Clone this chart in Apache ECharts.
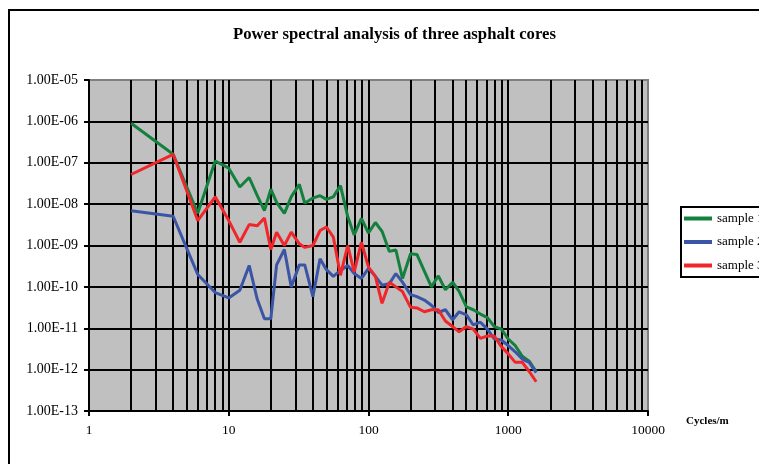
<!DOCTYPE html>
<html lang="en">

<head>
    <meta charset="UTF-8">
    <title>Power spectral analysis</title>
    <style>
        html,
        body {
            margin: 0;
            padding: 0;
            background: #fff;
        }

        .mychart {
            width: 759px;
            height: 464px;
        }
    </style>
</head>

<body>
    <div class="mychart"></div>
</body>
<script src="https://cdn.jsdelivr.net/npm/echarts@6/dist/echarts.min.js"></script>
<script>
    // frequency (cycles/m), shared by all three samples
    const freq = [2, 4, 6, 8, 10, 12, 14, 16, 18, 20, 22, 25, 28, 32, 35, 40, 45, 50, 56, 63, 71, 79, 89, 100,
        112, 125, 141, 157, 175, 200, 222, 251, 282, 316, 355, 400, 445, 502, 562, 632, 709, 795, 893, 1000,
        1122, 1260, 1413, 1585
    ]

    const sample1 = [9e-7, 1.6e-7, 6e-9, 1.1e-7, 7.4e-8, 2.6e-8, 4.4e-8, 1.6e-8, 7e-9, 2.3e-8, 1.1e-8, 6e-9, 1.5e-8,
        3e-8, 1.05e-8, 1.4e-8, 1.6e-8, 1.3e-8, 1.5e-8, 2.8e-8, 5e-9, 1.8e-9, 4.5e-9, 2e-9,
        3.6e-9, 2.2e-9, 7.2e-10, 7.8e-10, 1.6e-10, 6.3e-10, 6.1e-10, 2.4e-10, 1.0e-10, 1.85e-10, 8.5e-11, 1.3e-10,
        7.8e-11, 3.3e-11, 2.8e-11, 2.2e-11, 1.8e-11, 1.1e-11, 9.5e-12, 5.5e-12, 3.8e-12, 2.1e-12, 1.6e-12, 8.9e-13
    ]

    const sample2 = [6.9e-9, 5.1e-9, 2e-10, 7.3e-11, 5.4e-11, 8.3e-11, 3.3e-10, 5e-11, 1.7e-11, 1.7e-11, 3.4e-10,
        8e-10, 1e-10, 3.4e-10, 3.4e-10, 5.8e-11, 4.8e-10, 2.6e-10, 1.8e-10, 2.5e-10, 3.3e-10, 2.1e-10, 1.6e-10,
        2.8e-10, 1.8e-10, 1.1e-10, 1.2e-10, 2.1e-10, 1.3e-10, 6.5e-11, 5.8e-11, 4.8e-11, 3.6e-11, 2.4e-11, 2.8e-11,
        1.6e-11, 2.5e-11, 2.1e-11, 1.2e-11, 1.4e-11, 9.5e-12, 5.5e-12, 5.2e-12, 3.8e-12, 2.7e-12, 1.8e-12, 1.5e-12,
        8.5e-13
    ]

    const sample3 = [5.2e-8, 1.6e-7, 4e-9, 1.5e-8, 4e-9, 1.2e-9, 3.2e-9, 3e-9, 4.6e-9, 8e-10, 2.1e-9, 1e-9, 2.1e-9,
        1.1e-9, 9e-10, 1e-9, 2.3e-9, 2.8e-9, 1.6e-9, 1.9e-10, 1e-9, 2.3e-10, 1.2e-9, 3e-10, 1.8e-10, 4e-11,
        1.3e-10, 1e-10, 7.7e-11, 3.2e-11, 3.1e-11, 2.5e-11, 2.8e-11, 2.8e-11, 1.5e-11, 1.1e-11, 8.2e-12, 1.1e-11,
        9.5e-12, 5.7e-12, 6.5e-12, 6.5e-12, 3.6e-12, 2.4e-12, 1.5e-12, 1.5e-12, 9e-13, 5.1e-13
    ]

    const seriesNames = ['sample 1', 'sample 2', 'sample 3']

    // vertical grid lines of the log x axis (every 1..9 x decade)
    const xGridLines = [2, 3, 4, 5, 6, 7, 8, 9, 10, 20, 30, 40, 50, 60, 70, 80, 90, 100, 200, 300, 400, 500, 600, 700,
        800, 900, 1000, 2000, 3000, 4000, 5000, 6000, 7000, 8000, 9000
    ]

    const serif = '"Liberation Serif", "DejaVu Serif", serif'

    function pairs(ys) {
        return freq.map((f, i) => [f, ys[i]])
    }

    function fmtE(v) {
        const e = Math.round(Math.log10(v))
        return '1.00E' + (e < 0 ? '-' : '+') + String(Math.abs(e)).padStart(2, '0')
    }

    const mychartDom = document.querySelector('.mychart')
    const myChart = echarts.init(mychartDom)

    const lineStyleOf = color => ({ color: color, width: 3 })

    const config = {
        animation: false,
        backgroundColor: '#fff',
        title: {
            text: 'Power spectral analysis of three asphalt cores',
            left: 228,
            top: 21,
            textStyle: { fontFamily: serif, fontWeight: 'bold', fontSize: 16.7, color: '#000' }
        },
        legend: {
            data: seriesNames,
            orient: 'vertical',
            left: 681,
            top: 207,
            padding: [5, 60, 5, 3],
            itemWidth: 28,
            itemHeight: 4,
            itemGap: 10.5,
            icon: 'rect',
            borderColor: '#000',
            borderWidth: 2,
            backgroundColor: '#fff',
            textStyle: { fontFamily: serif, fontSize: 13, color: '#000' }
        },
        graphic: [{
            type: 'rect',
            shape: { x: 9, y: 10, width: 800, height: 500 },
            style: { fill: null, stroke: '#000', lineWidth: 2 },
            z: 100
        }, {
            type: 'text',
            left: 686,
            top: 416,
            style: { text: 'Cycles/m', font: 'bold 11px ' + serif, fill: '#000' }
        }],
        grid: {
            left: 89,
            top: 80,
            width: 559,
            height: 331,
            show: true,
            backgroundColor: '#c0c0c0',
            borderColor: '#808080',
            borderWidth: 2
        },
        xAxis: {
            type: 'log',
            logBase: 10,
            min: 1,
            max: 10000,
            splitNumber: 4,
            axisLine: { lineStyle: { color: '#000', width: 2 } },
            axisTick: { show: true, length: 5, lineStyle: { color: '#000', width: 2 } },
            splitLine: { show: false },
            axisLabel: {
                margin: 12,
                fontFamily: serif,
                fontSize: 13.5,
                color: '#000',
                formatter: v => String(Math.round(v))
            }
        },
        yAxis: {
            type: 'log',
            logBase: 10,
            min: 1e-13,
            max: 1e-5,
            splitNumber: 8,
            axisLine: { lineStyle: { color: '#000', width: 2 } },
            axisTick: { show: true, length: 5, lineStyle: { color: '#000', width: 2 } },
            splitLine: {
                show: true,
                showMinLine: false,
                showMaxLine: false,
                lineStyle: { color: '#000', width: 2 }
            },
            axisLabel: {
                margin: 11,
                fontFamily: serif,
                fontSize: 14,
                color: '#000',
                formatter: fmtE
            }
        },
        series: [{
                name: 'sample 1',
                type: 'line',
                data: pairs(sample1),
                showSymbol: false,
                symbol: 'none',
                z: 3,
                lineStyle: lineStyleOf('#13803d'),
                itemStyle: { color: '#13803d' },
                markLine: {
                    silent: true,
                    z: 1,
                    symbol: 'none',
                    label: { show: false },
                    lineStyle: { color: '#000', width: 2, type: 'solid' },
                    data: xGridLines.map(v => ({ xAxis: v }))
                }
            },
            {
                name: 'sample 2',
                type: 'line',
                data: pairs(sample2),
                showSymbol: false,
                symbol: 'none',
                z: 3,
                lineStyle: lineStyleOf('#3a55a5'),
                itemStyle: { color: '#3a55a5' }
            },
            {
                name: 'sample 3',
                type: 'line',
                data: pairs(sample3),
                showSymbol: false,
                symbol: 'none',
                z: 3,
                lineStyle: lineStyleOf('#f0262b'),
                itemStyle: { color: '#f0262b' }
            }
        ]
    }

    myChart.setOption(config)
</script>

</html>
